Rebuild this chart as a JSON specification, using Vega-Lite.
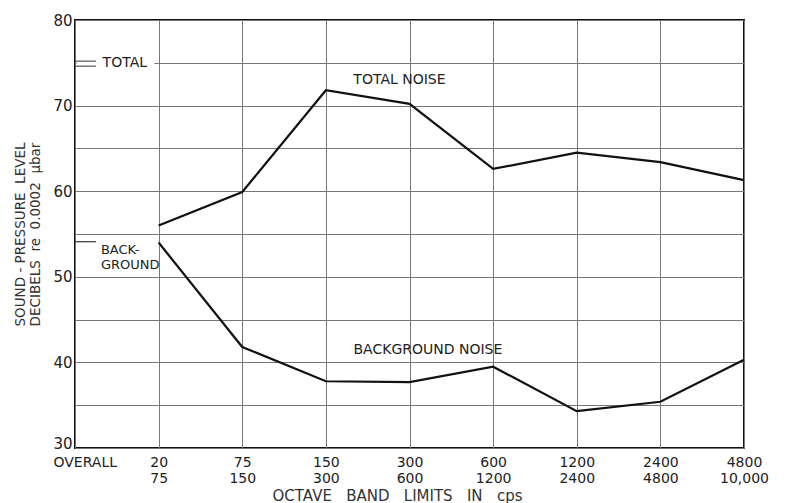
{
  "$schema": "https://vega.github.io/schema/vega-lite/v6.json",
  "width": 669,
  "height": 428,
  "autosize": {"type": "none"},
  "padding": {"left": 75, "top": 20, "right": 43, "bottom": 55},
  "background": "white",
  "config": {
    "font": "DejaVu Sans",
    "view": {"stroke": "#111", "strokeWidth": 2},
    "axis": {"gridColor": "#777", "gridWidth": 1, "gridOpacity": 1, "domain": false, "ticks": false, "labelColor": "#222", "titleColor": "#333", "labelFont": "DejaVu Sans", "titleFont": "DejaVu Sans", "titleFontWeight": "normal"}
  },
  "datasets": {
    "noise": [
      {"series": "TOTAL NOISE", "band": 1, "level": 56.0},
      {"series": "TOTAL NOISE", "band": 2, "level": 59.9},
      {"series": "TOTAL NOISE", "band": 3, "level": 71.8},
      {"series": "TOTAL NOISE", "band": 4, "level": 70.2},
      {"series": "TOTAL NOISE", "band": 5, "level": 62.6},
      {"series": "TOTAL NOISE", "band": 6, "level": 64.5},
      {"series": "TOTAL NOISE", "band": 7, "level": 63.4},
      {"series": "TOTAL NOISE", "band": 8, "level": 61.3},
      {"series": "BACKGROUND NOISE", "band": 1, "level": 54.0},
      {"series": "BACKGROUND NOISE", "band": 2, "level": 41.8},
      {"series": "BACKGROUND NOISE", "band": 3, "level": 37.8},
      {"series": "BACKGROUND NOISE", "band": 4, "level": 37.7},
      {"series": "BACKGROUND NOISE", "band": 5, "level": 39.5},
      {"series": "BACKGROUND NOISE", "band": 6, "level": 34.3},
      {"series": "BACKGROUND NOISE", "band": 7, "level": 35.4},
      {"series": "BACKGROUND NOISE", "band": 8, "level": 40.3}
    ],
    "overall": [
      {"series": "TOTAL", "band": 0, "level": 74.9},
      {"series": "BACKGROUND", "band": 0, "level": 54.1}
    ],
    "one": [{}]
  },
  "layer": [
    {
      "data": {"name": "noise"},
      "mark": {"type": "line", "color": "#111", "strokeWidth": 2.2},
      "encoding": {
        "x": {
          "field": "band", "type": "quantitative",
          "scale": {"domain": [0, 8], "nice": false, "zero": false},
          "axis": {
            "values": [0, 1, 2, 3, 4, 5, 6, 7, 8],
            "grid": true,
            "title": "OCTAVE\u00a0\u00a0 BAND\u00a0\u00a0 LIMITS\u00a0\u00a0 IN\u00a0\u00a0 cps",
            "titleFontSize": 15,
            "titleBaseline": "alphabetic",
            "titleY": 52,
            "titleX": 322,
            "labelFontSize": 14,
            "labelPadding": 7,
            "labelLineHeight": 16,
            "labelBaseline": "top",
            "labelFlush": false,
            "labelOverlap": false,
            "labelAlign": {"condition": {"test": "datum.value == 0", "value": "left"}, "value": "center"},
            "labelOffset": {"condition": {"test": "datum.value == 0", "value": -22}, "value": 0},
            "labelExpr": "datum.value == 0 ? 'OVERALL' : datum.value == 1 ? ['20','75'] : datum.value == 2 ? ['75','150'] : datum.value == 3 ? ['150','300'] : datum.value == 4 ? ['300','600'] : datum.value == 5 ? ['600','1200'] : datum.value == 6 ? ['1200','2400'] : datum.value == 7 ? ['2400','4800'] : ['4800','10,000']"
          }
        },
        "y": {
          "field": "level", "type": "quantitative",
          "scale": {"domain": [30, 80], "nice": false, "zero": false},
          "axis": {
            "values": [30, 35, 40, 45, 50, 55, 60, 65, 70, 75, 80],
            "grid": true,
            "labelExpr": "datum.value % 10 == 0 ? datum.label : ''",
            "labelFontSize": 15,
            "labelPadding": 3,
            "labelOffset": {"condition": {"test": "datum.value == 30", "value": -5}, "value": 0},
            "title": ["SOUND\u00a0-\u00a0PRESSURE\u00a0 LEVEL", "DECIBELS\u00a0 re\u00a0 0.0002\u00a0 μbar"],
            "titleFontSize": 13.5,
            "titlePadding": 10,
            "titleLineHeight": 15
          }
        },
        "detail": {"field": "series"}
      }
    },
    {
      "data": {"name": "one"},
      "mark": {"type": "rect", "color": "white"},
      "encoding": {
        "x": {"datum": 0.02, "type": "quantitative"},
        "x2": {"datum": 0.95},
        "y": {"datum": 74.3, "type": "quantitative"},
        "y2": {"datum": 75.7}
      }
    },
    {
      "data": {"name": "overall"},
      "transform": [{"filter": "datum.series == 'TOTAL'"}],
      "mark": {"type": "rule", "color": "#333", "strokeWidth": 1, "yOffset": -2.5},
      "encoding": {
        "x": {"field": "band", "type": "quantitative"},
        "x2": {"datum": 0.25},
        "y": {"field": "level", "type": "quantitative"}
      }
    },
    {
      "data": {"name": "overall"},
      "transform": [{"filter": "datum.series == 'TOTAL'"}],
      "mark": {"type": "rule", "color": "#333", "strokeWidth": 1, "yOffset": 2.5},
      "encoding": {
        "x": {"field": "band", "type": "quantitative"},
        "x2": {"datum": 0.25},
        "y": {"field": "level", "type": "quantitative"}
      }
    },
    {
      "data": {"name": "overall"},
      "transform": [{"filter": "datum.series == 'BACKGROUND'"}],
      "mark": {"type": "rule", "color": "#333", "strokeWidth": 1.2},
      "encoding": {
        "x": {"field": "band", "type": "quantitative"},
        "x2": {"datum": 0.25},
        "y": {"field": "level", "type": "quantitative"}
      }
    },
    {
      "data": {"name": "one"},
      "mark": {"type": "text", "align": "left", "baseline": "middle", "fontSize": 14, "color": "#222"},
      "encoding": {
        "x": {"datum": 0.33, "type": "quantitative"},
        "y": {"datum": 75, "type": "quantitative"},
        "text": {"value": "TOTAL"}
      }
    },
    {
      "data": {"name": "one"},
      "mark": {"type": "text", "align": "left", "baseline": "middle", "fontSize": 13, "color": "#222", "lineHeight": 15},
      "encoding": {
        "x": {"datum": 0.31, "type": "quantitative"},
        "y": {"datum": 53.1, "type": "quantitative"},
        "text": {"value": ["BACK-", "GROUND"]}
      }
    },
    {
      "data": {"name": "one"},
      "mark": {"type": "text", "align": "center", "baseline": "middle", "fontSize": 14, "color": "#222"},
      "encoding": {
        "x": {"datum": 3.88, "type": "quantitative"},
        "y": {"datum": 73.0, "type": "quantitative"},
        "text": {"value": "TOTAL NOISE"}
      }
    },
    {
      "data": {"name": "one"},
      "mark": {"type": "text", "align": "center", "baseline": "middle", "fontSize": 14, "color": "#222"},
      "encoding": {
        "x": {"datum": 4.22, "type": "quantitative"},
        "y": {"datum": 41.4, "type": "quantitative"},
        "text": {"value": "BACKGROUND NOISE"}
      }
    }
  ]
}
